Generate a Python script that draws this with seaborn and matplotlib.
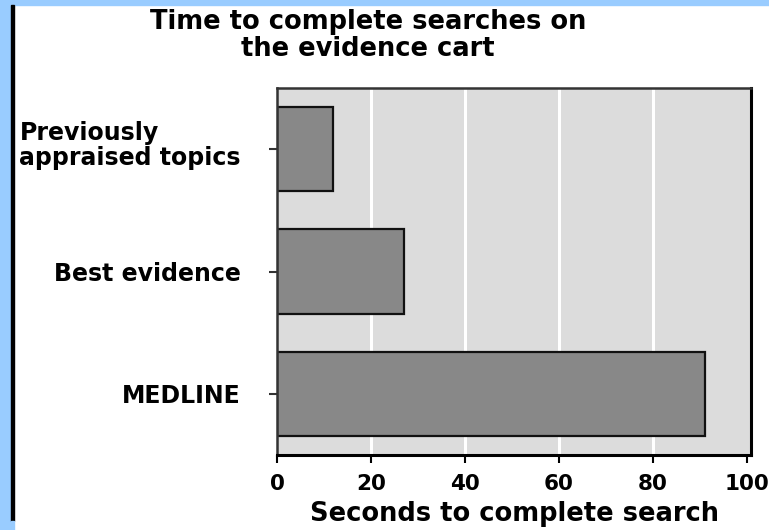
import matplotlib
matplotlib.use("Agg")
import matplotlib.pyplot as plt
import matplotlib.transforms as mtransforms
import seaborn as sns
import pandas as pd
from matplotlib.patches import Rectangle

categories = ["Previously\nappraised topics", "Best evidence", "MEDLINE"]
seconds = [12, 27, 91]
x_ticks = [0, 20, 40, 60, 80, 100]
title = "Time to complete searches on\nthe evidence cart"
x_label = "Seconds to complete search"

df = pd.DataFrame({"Search": categories, "Seconds": seconds})

sns.set_theme(style="white")
plt.rcParams["font.family"] = ["DejaVu Sans"]
plt.rcParams["font.weight"] = "bold"
plt.rcParams["text.color"] = "black"
plt.rcParams["xtick.color"] = "black"
plt.rcParams["ytick.color"] = "black"
plt.rcParams["axes.labelcolor"] = "black"

W, H = 769, 530
fig = plt.figure(figsize=(W / 100, H / 100), dpi=100)
fig.patch.set_facecolor("white")

ax = fig.add_axes([277 / W, 1 - 455 / H, (751 - 277) / W, (455 - 88) / H])
ax.set_facecolor("#dcdcdc")

sns.barplot(data=df, x="Seconds", y="Search", orient="h", color="#888888",
            edgecolor="#111111", linewidth=1.6, width=0.69, saturation=1, ax=ax)

ax.set_xlim(0, 100.85)
ax.set_ylim(2.5, -0.5)
ax.set_xticks(x_ticks)
ax.set_xticklabels([str(t) for t in x_ticks])
for t in x_ticks[1:-1]:
    ax.axvline(t, color="white", lw=2.2, zorder=0.5)
ax.set_axisbelow(True)

for side in ["top", "left"]:
    ax.spines[side].set_color("#333333")
    ax.spines[side].set_linewidth(1.8)
for side in ["bottom", "right"]:
    ax.spines[side].set_color("black")
    ax.spines[side].set_linewidth(2.2)

ax.tick_params(axis="x", direction="out", length=6, width=1.5,
               labelsize=15.5, pad=8, bottom=True)
ax.tick_params(axis="y", direction="out", length=6, width=1.5, color="#333333",
               labelsize=17, pad=20, left=True)
ylabels = ax.get_yticklabels()
for lbl in ylabels:
    lbl.set_multialignment("left")
    lbl.set_fontweight("bold")
    lbl.set_linespacing(1.05)
# the two-line label sits a little above its tick in the original
ylabels[0].set_transform(ylabels[0].get_transform() +
                         mtransforms.ScaledTranslation(0, 7 / 100, fig.dpi_scale_trans))
for lbl in ax.get_xticklabels():
    lbl.set_fontweight("bold")

ax.set_ylabel("")
ax.set_xlabel(x_label, fontsize=18.5, fontweight="bold", labelpad=5)

fig.text(368 / W, 1 - 9 / H, title, ha="center", va="top", fontsize=18.5,
         fontweight="bold", linespacing=1.05)

# decorative page frame
fig.patches.append(Rectangle((0, 0), 11 / W, 1, transform=fig.transFigure,
                             color="#99ccff", zorder=10))
fig.patches.append(Rectangle((0, 1 - 5 / H), 1, 5 / H, transform=fig.transFigure,
                             color="#99ccff", zorder=10))
fig.patches.append(Rectangle((11 / W, 1 - 521 / H), 3 / W, (521 - 5) / H,
                             transform=fig.transFigure, color="black", zorder=10))
fig.patches.append(Rectangle((11 / W, 0), 3 / W, 9 / H, transform=fig.transFigure,
                             color="#99ccff", zorder=10))

fig.savefig("out.png", dpi=100)
